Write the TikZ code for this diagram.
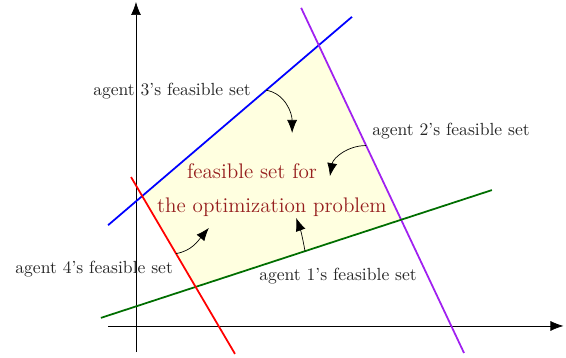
\documentclass[tikz,border=0pt]{standalone}
\usepackage{xcolor}
\usepackage{tikz}
\usetikzlibrary{arrows.meta, positioning}

\definecolor{agentgreen}{RGB}{0,110,0}
\definecolor{agentpurple}{RGB}{160,32,240}
\definecolor{settext}{RGB}{150,30,30}
\definecolor{setfill}{RGB}{255,255,224}

\tikzset{
  agentline/.style={line width=1pt},
  agentlabel/.style={inner sep=1pt, text=black!85},
  pointer/.style={->, >={Latex[length=2.6mm,width=2mm]}}
}

\begin{document}
\begin{tikzpicture}[x=0.9cm, y=0.9cm]
        \useasboundingbox (-3.022,-0.711) rectangle (9.556,7.244);

        \coordinate (b1) at (-0.62,2.24);
        \coordinate (b2) at (4.8,6.87);
        \coordinate (p1) at (3.67,7.07);
        \coordinate (p2) at (7.29,-0.6);
        \coordinate (g1) at (-0.78,0.18);
        \coordinate (g2) at (7.91,3.02);
        \coordinate (r1) at (-0.11,3.31);
        \coordinate (r2) at (2.2,-0.62);

        \fill[setfill] (intersection of b1--b2 and r1--r2)
            -- (intersection of b1--b2 and p1--p2)
            -- (intersection of p1--p2 and g1--g2)
            -- (intersection of g1--g2 and r1--r2) -- cycle;

        \coordinate (xs) at (-0.62,0);
        \coordinate (xe) at (9.5,0);
        \coordinate (ys) at (0,-0.58);
        \coordinate (ye) at (0,7.2);
        \draw[pointer] (xs) -- (xe);
        \draw[pointer] (ys) -- (ye);

        \draw[agentline, blue] (b1) -- (b2) coordinate[pos=0.648] (b3);
        \draw[agentline, agentpurple] (p1) -- (p2) coordinate[pos=0.399] (p3);
        \draw[agentline, agentgreen] (g1) -- (g2) coordinate[pos=0.522] (g3);
        \draw[agentline, red] (r1) -- (r2) coordinate[pos=0.433] (r3);

        \node[agentlabel] (a3) at (0.8,5.22) {agent 3's feasible set};
        \node[agentlabel] (a2) at (7.0,4.33) {agent 2's feasible set};
        \node[agentlabel] (a4) at (-0.93,1.27) {agent 4's feasible set};
        \node[agentlabel] (a1) at (4.49,1.11) {agent 1's feasible set};

        \node[text=settext, font=\large] (s1) at (2.58,3.44) {feasible set for};
        \node[text=settext, font=\large] (s2) at (3.02,2.64) {the optimization problem};

        \coordinate (e3) at (3.47,4.29);
        \coordinate (e2) at (4.31,3.33);
        \coordinate (e4) at (1.62,2.18);
        \coordinate (e1) at (3.56,2.4);

        \draw[pointer] (b3) to[out=-10, in=90] (e3);
        \draw[pointer] (p3) to[out=180, in=80] (e2);
        \draw[pointer] (r3) to[out=10, in=-130] (e4);
        \draw[pointer] (g3) to[out=100, in=-70] (e1);
    \end{tikzpicture}
\end{document}
